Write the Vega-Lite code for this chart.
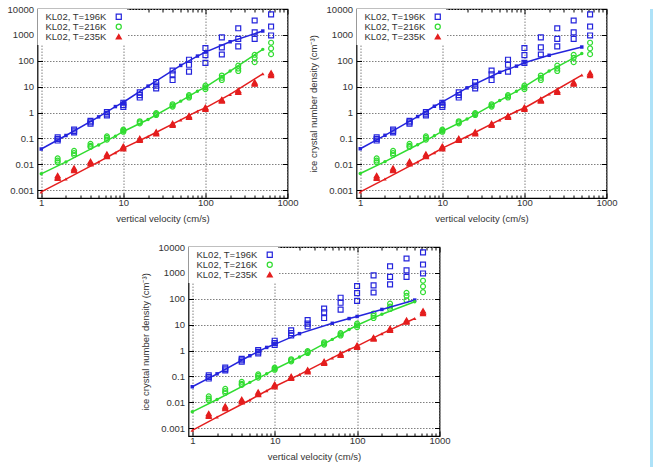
{
  "$schema": "https://vega.github.io/schema/vega-lite/v6.json",
  "padding": {"left": 5.5, "top": 3, "right": 0, "bottom": 0},
  "background": "white",
  "config": {
    "font": "Liberation Sans",
    "view": {"stroke": "#000", "strokeWidth": 1.2},
    "axis": {"labelFont": "Liberation Sans", "labelFontSize": 9.5, "labelColor": "#333", "titleFont": "Liberation Sans", "titleFontSize": 9.5, "titleFontWeight": "normal", "titleColor": "#333", "tickColor": "#000", "tickWidth": 1, "domain": false, "labelFlush": false, "labelOverlap": false, "gridColor": "#808080", "gridDash": [1.5, 1.5], "gridWidth": 1},
    "legend": {"orient": "top-left", "offset": 0, "padding": 3, "fillColor": "white", "strokeColor": null, "labelFont": "Liberation Sans", "labelFontSize": 9.5, "labelColor": "#333", "symbolOffset": 73.5, "labelOffset": -78, "rowPadding": -1.2, "symbolStrokeWidth": 1.2, "symbolSize": 26}
  },
  "datasets": {
    "obs": [
      {"s":"KL02, T=196K","v":1.585,"n":0.11},{"s":"KL02, T=196K","v":1.585,"n":0.095},{"s":"KL02, T=196K","v":1.585,"n":0.083},
      {"s":"KL02, T=196K","v":2.512,"n":0.22},{"s":"KL02, T=196K","v":2.512,"n":0.19},{"s":"KL02, T=196K","v":2.512,"n":0.17},
      {"s":"KL02, T=196K","v":3.981,"n":0.48},{"s":"KL02, T=196K","v":3.981,"n":0.42},{"s":"KL02, T=196K","v":3.981,"n":0.37},
      {"s":"KL02, T=196K","v":6.31,"n":1.05},{"s":"KL02, T=196K","v":6.31,"n":0.9},{"s":"KL02, T=196K","v":6.31,"n":0.78},
      {"s":"KL02, T=196K","v":10,"n":2.4},{"s":"KL02, T=196K","v":10,"n":1.95},{"s":"KL02, T=196K","v":10,"n":1.65},
      {"s":"KL02, T=196K","v":15.85,"n":6.0},{"s":"KL02, T=196K","v":15.85,"n":4.7},{"s":"KL02, T=196K","v":15.85,"n":3.8},
      {"s":"KL02, T=196K","v":25.12,"n":15},{"s":"KL02, T=196K","v":25.12,"n":11},{"s":"KL02, T=196K","v":25.12,"n":8.5},
      {"s":"KL02, T=196K","v":39.81,"n":42},{"s":"KL02, T=196K","v":39.81,"n":30},{"s":"KL02, T=196K","v":39.81,"n":18},
      {"s":"KL02, T=196K","v":63.1,"n":110},{"s":"KL02, T=196K","v":63.1,"n":70},{"s":"KL02, T=196K","v":63.1,"n":38},
      {"s":"KL02, T=196K","v":100,"n":310},{"s":"KL02, T=196K","v":100,"n":165},{"s":"KL02, T=196K","v":100,"n":83},
      {"s":"KL02, T=196K","v":158.5,"n":800},{"s":"KL02, T=196K","v":158.5,"n":330},{"s":"KL02, T=196K","v":158.5,"n":175},
      {"s":"KL02, T=196K","v":251.2,"n":1800},{"s":"KL02, T=196K","v":251.2,"n":700},{"s":"KL02, T=196K","v":251.2,"n":360},
      {"s":"KL02, T=196K","v":398.1,"n":3600},{"s":"KL02, T=196K","v":398.1,"n":1250},{"s":"KL02, T=196K","v":398.1,"n":700},
      {"s":"KL02, T=196K","v":631,"n":6200},{"s":"KL02, T=196K","v":631,"n":2100},{"s":"KL02, T=196K","v":631,"n":950},
      {"s":"KL02, T=216K","v":1.585,"n":0.017},{"s":"KL02, T=216K","v":1.585,"n":0.014},{"s":"KL02, T=216K","v":1.585,"n":0.012},
      {"s":"KL02, T=216K","v":2.512,"n":0.033},{"s":"KL02, T=216K","v":2.512,"n":0.027},{"s":"KL02, T=216K","v":2.512,"n":0.023},
      {"s":"KL02, T=216K","v":3.981,"n":0.062},{"s":"KL02, T=216K","v":3.981,"n":0.052},{"s":"KL02, T=216K","v":3.981,"n":0.047},
      {"s":"KL02, T=216K","v":6.31,"n":0.12},{"s":"KL02, T=216K","v":6.31,"n":0.105},{"s":"KL02, T=216K","v":6.31,"n":0.09},
      {"s":"KL02, T=216K","v":10,"n":0.22},{"s":"KL02, T=216K","v":10,"n":0.2},{"s":"KL02, T=216K","v":10,"n":0.18},
      {"s":"KL02, T=216K","v":15.85,"n":0.46},{"s":"KL02, T=216K","v":15.85,"n":0.42},{"s":"KL02, T=216K","v":15.85,"n":0.38},
      {"s":"KL02, T=216K","v":25.12,"n":0.95},{"s":"KL02, T=216K","v":25.12,"n":0.88},{"s":"KL02, T=216K","v":25.12,"n":0.8},
      {"s":"KL02, T=216K","v":39.81,"n":2.1},{"s":"KL02, T=216K","v":39.81,"n":1.9},{"s":"KL02, T=216K","v":39.81,"n":1.7},
      {"s":"KL02, T=216K","v":63.1,"n":4.7},{"s":"KL02, T=216K","v":63.1,"n":4.2},{"s":"KL02, T=216K","v":63.1,"n":3.8},
      {"s":"KL02, T=216K","v":100,"n":11},{"s":"KL02, T=216K","v":100,"n":9.5},{"s":"KL02, T=216K","v":100,"n":8},
      {"s":"KL02, T=216K","v":158.5,"n":27},{"s":"KL02, T=216K","v":158.5,"n":22},{"s":"KL02, T=216K","v":158.5,"n":18},
      {"s":"KL02, T=216K","v":251.2,"n":65},{"s":"KL02, T=216K","v":251.2,"n":50},{"s":"KL02, T=216K","v":251.2,"n":40},
      {"s":"KL02, T=216K","v":398.1,"n":170},{"s":"KL02, T=216K","v":398.1,"n":130},{"s":"KL02, T=216K","v":398.1,"n":88},
      {"s":"KL02, T=216K","v":631,"n":500},{"s":"KL02, T=216K","v":631,"n":300},{"s":"KL02, T=216K","v":631,"n":180},
      {"s":"KL02, T=235K","v":1.585,"n":0.0037},{"s":"KL02, T=235K","v":1.585,"n":0.0032},{"s":"KL02, T=235K","v":1.585,"n":0.0029},
      {"s":"KL02, T=235K","v":2.512,"n":0.0072},{"s":"KL02, T=235K","v":2.512,"n":0.0063},{"s":"KL02, T=235K","v":2.512,"n":0.0057},
      {"s":"KL02, T=235K","v":3.981,"n":0.013},{"s":"KL02, T=235K","v":3.981,"n":0.0115},{"s":"KL02, T=235K","v":3.981,"n":0.0105},
      {"s":"KL02, T=235K","v":6.31,"n":0.025},{"s":"KL02, T=235K","v":6.31,"n":0.022},{"s":"KL02, T=235K","v":6.31,"n":0.02},
      {"s":"KL02, T=235K","v":10,"n":0.05},{"s":"KL02, T=235K","v":10,"n":0.045},{"s":"KL02, T=235K","v":10,"n":0.04},
      {"s":"KL02, T=235K","v":15.85,"n":0.1},{"s":"KL02, T=235K","v":15.85,"n":0.092},{"s":"KL02, T=235K","v":15.85,"n":0.085},
      {"s":"KL02, T=235K","v":25.12,"n":0.18},{"s":"KL02, T=235K","v":25.12,"n":0.165},{"s":"KL02, T=235K","v":25.12,"n":0.15},
      {"s":"KL02, T=235K","v":39.81,"n":0.38},{"s":"KL02, T=235K","v":39.81,"n":0.35},{"s":"KL02, T=235K","v":39.81,"n":0.32},
      {"s":"KL02, T=235K","v":63.1,"n":0.76},{"s":"KL02, T=235K","v":63.1,"n":0.7},{"s":"KL02, T=235K","v":63.1,"n":0.65},
      {"s":"KL02, T=235K","v":100,"n":1.6},{"s":"KL02, T=235K","v":100,"n":1.45},{"s":"KL02, T=235K","v":100,"n":1.35},
      {"s":"KL02, T=235K","v":158.5,"n":3.2},{"s":"KL02, T=235K","v":158.5,"n":3.0},{"s":"KL02, T=235K","v":158.5,"n":2.8},
      {"s":"KL02, T=235K","v":251.2,"n":7.2},{"s":"KL02, T=235K","v":251.2,"n":6.5},{"s":"KL02, T=235K","v":251.2,"n":6.0},
      {"s":"KL02, T=235K","v":398.1,"n":15},{"s":"KL02, T=235K","v":398.1,"n":13.5},{"s":"KL02, T=235K","v":398.1,"n":12.5},
      {"s":"KL02, T=235K","v":631,"n":34},{"s":"KL02, T=235K","v":631,"n":30},{"s":"KL02, T=235K","v":631,"n":27}
    ],
    "fitA": [
      {"s":"KL02, T=196K","v":1,"n":0.039},{"s":"KL02, T=196K","v":2,"n":0.13},{"s":"KL02, T=196K","v":5,"n":0.68},{"s":"KL02, T=196K","v":8,"n":1.7},{"s":"KL02, T=196K","v":10,"n":2.5},{"s":"KL02, T=196K","v":20,"n":10.5},{"s":"KL02, T=196K","v":50,"n":66},{"s":"KL02, T=196K","v":80,"n":152},{"s":"KL02, T=196K","v":100,"n":217},{"s":"KL02, T=196K","v":200,"n":543},{"s":"KL02, T=196K","v":500,"n":1410},
      {"s":"KL02, T=216K","v":1,"n":0.0043},{"s":"KL02, T=216K","v":2,"n":0.0124},{"s":"KL02, T=216K","v":5,"n":0.056},{"s":"KL02, T=216K","v":8,"n":0.122},{"s":"KL02, T=216K","v":10,"n":0.186},{"s":"KL02, T=216K","v":20,"n":0.54},{"s":"KL02, T=216K","v":50,"n":2.76},{"s":"KL02, T=216K","v":80,"n":6.7},{"s":"KL02, T=216K","v":100,"n":9.6},{"s":"KL02, T=216K","v":200,"n":40},{"s":"KL02, T=216K","v":500,"n":276},
      {"s":"KL02, T=235K","v":1,"n":0.00086},{"s":"KL02, T=235K","v":2,"n":0.0027},{"s":"KL02, T=235K","v":5,"n":0.0124},{"s":"KL02, T=235K","v":8,"n":0.028},{"s":"KL02, T=235K","v":10,"n":0.042},{"s":"KL02, T=235K","v":20,"n":0.119},{"s":"KL02, T=235K","v":50,"n":0.52},{"s":"KL02, T=235K","v":80,"n":1.13},{"s":"KL02, T=235K","v":100,"n":1.51},{"s":"KL02, T=235K","v":200,"n":5.0},{"s":"KL02, T=235K","v":500,"n":31.4}
    ],
    "fitB": [
      {"s":"KL02, T=196K","v":1,"n":0.04},{"s":"KL02, T=196K","v":2,"n":0.132},{"s":"KL02, T=196K","v":5,"n":0.7},{"s":"KL02, T=196K","v":8,"n":1.75},{"s":"KL02, T=196K","v":10,"n":2.6},{"s":"KL02, T=196K","v":20,"n":9.0},{"s":"KL02, T=196K","v":50,"n":36},{"s":"KL02, T=196K","v":80,"n":62},{"s":"KL02, T=196K","v":100,"n":84},{"s":"KL02, T=196K","v":200,"n":163},{"s":"KL02, T=196K","v":500,"n":340},
      {"s":"KL02, T=216K","v":1,"n":0.0044},{"s":"KL02, T=216K","v":2,"n":0.0127},{"s":"KL02, T=216K","v":5,"n":0.057},{"s":"KL02, T=216K","v":8,"n":0.126},{"s":"KL02, T=216K","v":10,"n":0.19},{"s":"KL02, T=216K","v":20,"n":0.56},{"s":"KL02, T=216K","v":50,"n":2.9},{"s":"KL02, T=216K","v":80,"n":6.6},{"s":"KL02, T=216K","v":100,"n":10},{"s":"KL02, T=216K","v":200,"n":40},{"s":"KL02, T=216K","v":500,"n":190},
      {"s":"KL02, T=235K","v":1,"n":0.00086},{"s":"KL02, T=235K","v":2,"n":0.0027},{"s":"KL02, T=235K","v":5,"n":0.0124},{"s":"KL02, T=235K","v":8,"n":0.028},{"s":"KL02, T=235K","v":10,"n":0.042},{"s":"KL02, T=235K","v":20,"n":0.119},{"s":"KL02, T=235K","v":50,"n":0.52},{"s":"KL02, T=235K","v":80,"n":1.12},{"s":"KL02, T=235K","v":100,"n":1.5},{"s":"KL02, T=235K","v":200,"n":5.2},{"s":"KL02, T=235K","v":500,"n":28}
    ],
    "fitC": [
      {"s":"KL02, T=196K","v":1,"n":0.04},{"s":"KL02, T=196K","v":2,"n":0.126},{"s":"KL02, T=196K","v":5,"n":0.63},{"s":"KL02, T=196K","v":8,"n":1.32},{"s":"KL02, T=196K","v":10,"n":1.74},{"s":"KL02, T=196K","v":20,"n":4.5},{"s":"KL02, T=196K","v":50,"n":11.3},{"s":"KL02, T=196K","v":80,"n":17.2},{"s":"KL02, T=196K","v":100,"n":20.7},{"s":"KL02, T=196K","v":200,"n":38.7},{"s":"KL02, T=196K","v":500,"n":89},
      {"s":"KL02, T=216K","v":1,"n":0.0043},{"s":"KL02, T=216K","v":2,"n":0.0129},{"s":"KL02, T=216K","v":5,"n":0.059},{"s":"KL02, T=216K","v":8,"n":0.126},{"s":"KL02, T=216K","v":10,"n":0.19},{"s":"KL02, T=216K","v":20,"n":0.56},{"s":"KL02, T=216K","v":50,"n":2.7},{"s":"KL02, T=216K","v":80,"n":6.5},{"s":"KL02, T=216K","v":100,"n":9.5},{"s":"KL02, T=216K","v":200,"n":25.4},{"s":"KL02, T=216K","v":500,"n":77},
      {"s":"KL02, T=235K","v":1,"n":0.00083},{"s":"KL02, T=235K","v":2,"n":0.0027},{"s":"KL02, T=235K","v":5,"n":0.0123},{"s":"KL02, T=235K","v":8,"n":0.028},{"s":"KL02, T=235K","v":10,"n":0.041},{"s":"KL02, T=235K","v":20,"n":0.118},{"s":"KL02, T=235K","v":50,"n":0.52},{"s":"KL02, T=235K","v":80,"n":1.1},{"s":"KL02, T=235K","v":100,"n":1.48},{"s":"KL02, T=235K","v":200,"n":4.5},{"s":"KL02, T=235K","v":500,"n":17.3}
    ]
  },
  "spacing": 31.5,
  "resolve": {"scale": {"color": "independent", "stroke": "independent", "fill": "independent", "shape": "independent"}},
  "hconcat": [
    {
      "spacing": 17,
      "resolve": {"scale": {"color": "independent", "stroke": "independent", "fill": "independent", "shape": "independent"}},
      "vconcat": [
        {
          "spacing": 7,
          "resolve": {"scale": {"color": "independent", "stroke": "independent", "fill": "independent", "shape": "independent"}},
          "hconcat": [
            {
              "width": 250, "height": 189,
              "resolve": {"axis": {"x": "independent", "y": "independent"}},
              "layer": [
                {"data": {"name": "obs"}, "mark": {"type": "point", "size": 24, "strokeWidth": 1.2, "opacity": 1},
                 "encoding": {
                   "x": {"field": "v", "type": "quantitative", "scale": {"type": "log", "domain": [0.9, 1000], "nice": false},
                         "axis": {"orient": "bottom", "values": [1,2,3,4,5,6,7,8,9,10,20,30,40,50,60,70,80,90,100,200,300,400,500,600,700,800,900,1000],
                                  "labelExpr": "indexof([1,10,100,1000], datum.value) >= 0 ? '' + datum.value : ''",
                                  "tickSize": {"condition": {"test": "indexof([1,10,100,1000], datum.value) >= 0", "value": -5}, "value": -3},
                                  "gridOpacity": {"condition": {"test": "indexof([1,10,100,1000], datum.value) >= 0", "value": 1}, "value": 0},
                                  "labelPadding": 4, "title": "vertical velocity (cm/s)", "titlePadding": 5}},
                   "y": {"field": "n", "type": "quantitative", "scale": {"type": "log", "domain": [0.0005, 10000], "nice": false},
                         "axis": {"orient": "left", "values": [0.001,0.01,0.1,1,10,100,1000,10000], "labelExpr": "'' + datum.value", "tickSize": -5, "labelPadding": 9, "title": null}},
                   "shape": {"field": "s", "type": "nominal", "scale": {"domain": ["KL02, T=196K","KL02, T=216K","KL02, T=235K"], "range": ["square","circle","triangle-up"]}, "legend": {"title": null}},
                   "stroke": {"field": "s", "type": "nominal", "scale": {"domain": ["KL02, T=196K","KL02, T=216K","KL02, T=235K"], "range": ["#2424dc","#30dc30","#e41e1e"]}, "legend": {"title": null}},
                   "fill": {"field": "s", "type": "nominal", "scale": {"domain": ["KL02, T=196K","KL02, T=216K","KL02, T=235K"], "range": ["transparent","transparent","#e41e1e"]}, "legend": {"title": null}}
                 }},
                {"data": {"name": "fitA"}, "mark": {"type": "line", "strokeWidth": 1.5},
                 "encoding": {
                   "x": {"field": "v", "type": "quantitative", "scale": {"type": "log", "domain": [0.9, 1000], "nice": false},
                         "axis": {"orient": "top", "values": [1,2,3,4,5,6,7,8,9,10,20,30,40,50,60,70,80,90,100,200,300,400,500,600,700,800,900,1000], "labels": false, "grid": false,
                                  "tickSize": {"condition": {"test": "indexof([1,10,100,1000], datum.value) >= 0", "value": -5}, "value": -3}, "title": null}},
                   "y": {"field": "n", "type": "quantitative", "scale": {"type": "log", "domain": [0.0005, 10000], "nice": false},
                         "axis": {"orient": "right", "values": [0.001,0.01,0.1,1,10,100,1000,10000], "labels": false, "grid": false, "tickSize": -5, "title": null}},
                   "color": {"field": "s", "type": "nominal", "scale": {"domain": ["KL02, T=196K","KL02, T=216K","KL02, T=235K"], "range": ["#2424dc","#30dc30","#e41e1e"]}, "legend": null}
                 }},
                {"data": {"name": "fitA"}, "mark": {"type": "point", "filled": true, "size": 12, "opacity": 1},
                 "encoding": {
                   "x": {"field": "v", "type": "quantitative", "scale": {"type": "log", "domain": [0.9, 1000], "nice": false}, "axis": null},
                   "y": {"field": "n", "type": "quantitative", "scale": {"type": "log", "domain": [0.0005, 10000], "nice": false}, "axis": null},
                   "color": {"field": "s", "type": "nominal", "scale": {"domain": ["KL02, T=196K","KL02, T=216K","KL02, T=235K"], "range": ["#2424dc","#30dc30","#e41e1e"]}, "legend": null},
                   "shape": {"field": "s", "type": "nominal", "legend": null}
                 }}
              ]
            },
            {
              "width": 250, "height": 189,
              "resolve": {"axis": {"x": "independent", "y": "independent"}},
              "layer": [
                {"data": {"name": "obs"}, "mark": {"type": "point", "size": 24, "strokeWidth": 1.2, "opacity": 1},
                 "encoding": {
                   "x": {"field": "v", "type": "quantitative", "scale": {"type": "log", "domain": [0.9, 1000], "nice": false},
                         "axis": {"orient": "bottom", "values": [1,2,3,4,5,6,7,8,9,10,20,30,40,50,60,70,80,90,100,200,300,400,500,600,700,800,900,1000],
                                  "labelExpr": "indexof([1,10,100,1000], datum.value) >= 0 ? '' + datum.value : ''",
                                  "tickSize": {"condition": {"test": "indexof([1,10,100,1000], datum.value) >= 0", "value": -5}, "value": -3},
                                  "gridOpacity": {"condition": {"test": "indexof([1,10,100,1000], datum.value) >= 0", "value": 1}, "value": 0},
                                  "labelPadding": 4, "title": "vertical velocity (cm/s)", "titlePadding": 5}},
                   "y": {"field": "n", "type": "quantitative", "scale": {"type": "log", "domain": [0.0005, 10000], "nice": false},
                         "axis": {"orient": "left", "values": [0.001,0.01,0.1,1,10,100,1000,10000], "labelExpr": "'' + datum.value", "tickSize": -5, "labelPadding": 9, "title": "ice crystal number density (cm⁻³)", "titlePadding": 8}},
                   "shape": {"field": "s", "type": "nominal", "scale": {"domain": ["KL02, T=196K","KL02, T=216K","KL02, T=235K"], "range": ["square","circle","triangle-up"]}, "legend": {"title": null}},
                   "stroke": {"field": "s", "type": "nominal", "scale": {"domain": ["KL02, T=196K","KL02, T=216K","KL02, T=235K"], "range": ["#2424dc","#30dc30","#e41e1e"]}, "legend": {"title": null}},
                   "fill": {"field": "s", "type": "nominal", "scale": {"domain": ["KL02, T=196K","KL02, T=216K","KL02, T=235K"], "range": ["transparent","transparent","#e41e1e"]}, "legend": {"title": null}}
                 }},
                {"data": {"name": "fitB"}, "mark": {"type": "line", "strokeWidth": 1.5},
                 "encoding": {
                   "x": {"field": "v", "type": "quantitative", "scale": {"type": "log", "domain": [0.9, 1000], "nice": false},
                         "axis": {"orient": "top", "values": [1,2,3,4,5,6,7,8,9,10,20,30,40,50,60,70,80,90,100,200,300,400,500,600,700,800,900,1000], "labels": false, "grid": false,
                                  "tickSize": {"condition": {"test": "indexof([1,10,100,1000], datum.value) >= 0", "value": -5}, "value": -3}, "title": null}},
                   "y": {"field": "n", "type": "quantitative", "scale": {"type": "log", "domain": [0.0005, 10000], "nice": false},
                         "axis": {"orient": "right", "values": [0.001,0.01,0.1,1,10,100,1000,10000], "labels": false, "grid": false, "tickSize": -5, "title": null}},
                   "color": {"field": "s", "type": "nominal", "scale": {"domain": ["KL02, T=196K","KL02, T=216K","KL02, T=235K"], "range": ["#2424dc","#30dc30","#e41e1e"]}, "legend": null}
                 }},
                {"data": {"name": "fitB"}, "mark": {"type": "point", "filled": true, "size": 12, "opacity": 1},
                 "encoding": {
                   "x": {"field": "v", "type": "quantitative", "scale": {"type": "log", "domain": [0.9, 1000], "nice": false}, "axis": null},
                   "y": {"field": "n", "type": "quantitative", "scale": {"type": "log", "domain": [0.0005, 10000], "nice": false}, "axis": null},
                   "color": {"field": "s", "type": "nominal", "scale": {"domain": ["KL02, T=196K","KL02, T=216K","KL02, T=235K"], "range": ["#2424dc","#30dc30","#e41e1e"]}, "legend": null},
                   "shape": {"field": "s", "type": "nominal", "legend": null}
                 }}
              ]
            }
          ]
        },
        {
          "spacing": 13,
          "resolve": {"scale": {"color": "independent", "stroke": "independent", "fill": "independent", "shape": "independent"}},
          "hconcat": [
            {"width": 88, "height": 10, "data": {"values": []}, "mark": "point", "view": {"stroke": null}},
            {
              "width": 251, "height": 189,
              "resolve": {"axis": {"x": "independent", "y": "independent"}},
              "layer": [
                {"data": {"name": "obs"}, "mark": {"type": "point", "size": 24, "strokeWidth": 1.2, "opacity": 1},
                 "encoding": {
                   "x": {"field": "v", "type": "quantitative", "scale": {"type": "log", "domain": [0.9, 1000], "nice": false},
                         "axis": {"orient": "bottom", "values": [1,2,3,4,5,6,7,8,9,10,20,30,40,50,60,70,80,90,100,200,300,400,500,600,700,800,900,1000],
                                  "labelExpr": "indexof([1,10,100,1000], datum.value) >= 0 ? '' + datum.value : ''",
                                  "tickSize": {"condition": {"test": "indexof([1,10,100,1000], datum.value) >= 0", "value": -5}, "value": -3},
                                  "gridOpacity": {"condition": {"test": "indexof([1,10,100,1000], datum.value) >= 0", "value": 1}, "value": 0},
                                  "labelPadding": 4, "title": "vertical velocity (cm/s)", "titlePadding": 5}},
                   "y": {"field": "n", "type": "quantitative", "scale": {"type": "log", "domain": [0.0005, 10000], "nice": false},
                         "axis": {"orient": "left", "values": [0.001,0.01,0.1,1,10,100,1000,10000], "labelExpr": "'' + datum.value", "tickSize": -5, "labelPadding": 9, "title": "ice crystal number density (cm⁻³)", "titlePadding": 8}},
                   "shape": {"field": "s", "type": "nominal", "scale": {"domain": ["KL02, T=196K","KL02, T=216K","KL02, T=235K"], "range": ["square","circle","triangle-up"]}, "legend": {"title": null}},
                   "stroke": {"field": "s", "type": "nominal", "scale": {"domain": ["KL02, T=196K","KL02, T=216K","KL02, T=235K"], "range": ["#2424dc","#30dc30","#e41e1e"]}, "legend": {"title": null}},
                   "fill": {"field": "s", "type": "nominal", "scale": {"domain": ["KL02, T=196K","KL02, T=216K","KL02, T=235K"], "range": ["transparent","transparent","#e41e1e"]}, "legend": {"title": null}}
                 }},
                {"data": {"name": "fitC"}, "mark": {"type": "line", "strokeWidth": 1.5},
                 "encoding": {
                   "x": {"field": "v", "type": "quantitative", "scale": {"type": "log", "domain": [0.9, 1000], "nice": false},
                         "axis": {"orient": "top", "values": [1,2,3,4,5,6,7,8,9,10,20,30,40,50,60,70,80,90,100,200,300,400,500,600,700,800,900,1000], "labels": false, "grid": false,
                                  "tickSize": {"condition": {"test": "indexof([1,10,100,1000], datum.value) >= 0", "value": -5}, "value": -3}, "title": null}},
                   "y": {"field": "n", "type": "quantitative", "scale": {"type": "log", "domain": [0.0005, 10000], "nice": false},
                         "axis": {"orient": "right", "values": [0.001,0.01,0.1,1,10,100,1000,10000], "labels": false, "grid": false, "tickSize": -5, "title": null}},
                   "color": {"field": "s", "type": "nominal", "scale": {"domain": ["KL02, T=196K","KL02, T=216K","KL02, T=235K"], "range": ["#2424dc","#30dc30","#e41e1e"]}, "legend": null}
                 }},
                {"data": {"name": "fitC"}, "mark": {"type": "point", "filled": true, "size": 12, "opacity": 1},
                 "encoding": {
                   "x": {"field": "v", "type": "quantitative", "scale": {"type": "log", "domain": [0.9, 1000], "nice": false}, "axis": null},
                   "y": {"field": "n", "type": "quantitative", "scale": {"type": "log", "domain": [0.0005, 10000], "nice": false}, "axis": null},
                   "color": {"field": "s", "type": "nominal", "scale": {"domain": ["KL02, T=196K","KL02, T=216K","KL02, T=235K"], "range": ["#2424dc","#30dc30","#e41e1e"]}, "legend": null},
                   "shape": {"field": "s", "type": "nominal", "legend": null}
                 }}
              ]
            }
          ]
        }
      ]
    },
    {"width": 8, "height": 470, "data": {"values": []}, "mark": "point", "view": {"fill": "#aee2f8", "stroke": null}}
  ]
}
